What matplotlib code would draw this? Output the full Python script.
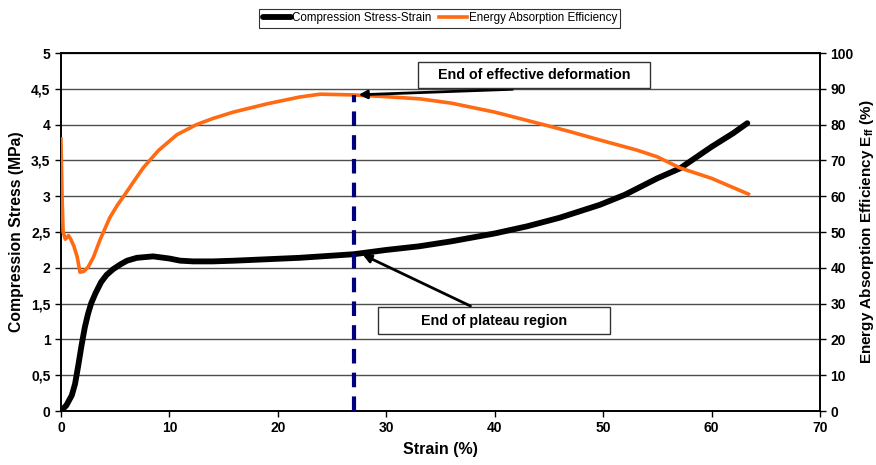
import matplotlib
matplotlib.use("Agg")
import matplotlib.pyplot as plt
from matplotlib.patches import Rectangle

plt.rcParams['font.family'] = ['Liberation Sans', 'DejaVu Sans']
plt.rcParams['mathtext.fontset'] = 'custom'
plt.rcParams['mathtext.rm'] = 'Liberation Sans'
plt.rcParams['mathtext.bf'] = 'Liberation Sans:bold'

# Compression stress-strain (left axis, MPa)
strain_s = [0, 0.5, 1.0, 1.3, 1.6, 1.9, 2.2, 2.5, 2.8, 3.2, 3.7, 4.2, 4.8, 5.5, 6.1, 7.0, 8.5, 10.0,
            11.0, 12.2, 14.0, 16.0, 19.0, 22.0, 25.0, 27.0, 30.0, 33.0, 36.0, 40.0, 43.0, 46.0, 49.7,
            52.0, 55.0, 57.1, 60.0, 62.0, 63.3]
stress = [0, 0.08, 0.22, 0.38, 0.64, 0.92, 1.17, 1.36, 1.51, 1.65, 1.8, 1.9, 1.98, 2.05, 2.1, 2.14, 2.16,
          2.13, 2.1, 2.09, 2.09, 2.1, 2.12, 2.14, 2.17, 2.19, 2.25, 2.3, 2.37, 2.48, 2.58, 2.7, 2.88,
          3.02, 3.25, 3.39, 3.69, 3.88, 4.02]

# Energy absorption efficiency (right axis, %)
strain_e = [0, 0.1, 0.2, 0.4, 0.7, 0.9, 1.2, 1.5, 1.75, 2.1, 2.5, 3.0, 3.6, 4.5, 5.2, 5.9, 6.8, 7.6,
            9.0, 10.7, 12.5, 14.0, 15.9, 19.0, 22.0, 23.9, 27.0, 30.0, 33.1, 36.0, 40.0, 44.5, 47.0,
            49.7, 53.1, 55.0, 57.1, 60.0, 63.4]
efficiency = [76, 60, 50, 48, 49, 48, 46, 43, 38.8, 39.0, 40.2, 43, 47.8, 54, 57.5, 60.5, 64.5, 68,
              72.8, 77.2, 80, 81.7, 83.5, 85.8, 87.7, 88.5, 88.3, 87.8, 87.2, 86, 83.5, 80, 78,
              75.7, 72.9, 71, 67.9, 65, 60.6]

end_strain = 27.0
end_eff = 88.3

xticks = [0, 10, 20, 30, 40, 50, 60, 70]
yticks_left = [0, 0.5, 1, 1.5, 2, 2.5, 3, 3.5, 4, 4.5, 5]
ylabels_left = ['0', '0,5', '1', '1,5', '2', '2,5', '3', '3,5', '4', '4,5', '5']
yticks_right = [0, 10, 20, 30, 40, 50, 60, 70, 80, 90, 100]

fig = plt.figure(figsize=(8.76, 4.65), dpi=100)
ax = fig.add_axes([0.0696, 0.116, 0.8664, 0.770])
ax2 = ax.twinx()

ax.set_xlim(0, 70)
ax.set_ylim(0, 5)
ax2.set_ylim(0, 100)

for y in yticks_left[1:]:
    ax.axhline(y, color='#4d4d4d', lw=1.0, zorder=0)

l1, = ax.plot(strain_s, stress, color='black', lw=4.2, solid_capstyle='round',
              label='Compression Stress-Strain', zorder=3)
l2, = ax2.plot(strain_e, efficiency, color='#ff6a13', lw=2.6,
               label='Energy Absorption Efficiency', zorder=3)
ax2.plot([end_strain, end_strain], [0, end_eff], color='#00007f', lw=3,
         dashes=(3.5, 2.2), zorder=4)

ax.set_xticks(xticks)
ax.set_yticks(yticks_left)
ax.set_yticklabels(ylabels_left)
ax2.set_yticks(yticks_right)
for a in (ax, ax2):
    a.tick_params(labelsize=10, width=1, length=4, direction='out')
    for lab in a.get_xticklabels() + a.get_yticklabels():
        lab.set_fontweight('bold')
    for sp in a.spines.values():
        sp.set_linewidth(1.2)

ax.set_xlabel('Strain (%)', fontsize=11.5, fontweight='bold', labelpad=5)
ax.set_ylabel('Compression Stress (MPa)', fontsize=11.3, fontweight='bold', labelpad=5)
ax2.set_ylabel(r'Energy Absorption Efficiency E$_\mathbf{ff}$ (%)', fontsize=11.0,
               fontweight='bold', labelpad=3)

leg = fig.legend(handles=[l1, l2], loc='center', bbox_to_anchor=(0.502, 0.961), ncol=2,
                 fontsize=8.4, frameon=True, fancybox=False, handlelength=2.4,
                 handletextpad=0.15, columnspacing=0.6, borderpad=0.3, borderaxespad=0)
leg.get_frame().set_edgecolor('black')
leg.get_frame().set_linewidth(0.8)

# annotation boxes (figure coordinates)
fig.add_artist(Rectangle((0.477, 0.8108), 0.265, 0.0559, transform=fig.transFigure,
                         fc='white', ec='#333333', lw=1.0, zorder=6))
fig.text(0.6095, 0.8388, 'End of effective deformation', ha='center', va='center',
         fontsize=10.3, fontweight='bold', zorder=7)
fig.add_artist(Rectangle((0.4315, 0.2817), 0.265, 0.058, transform=fig.transFigure,
                         fc='white', ec='#333333', lw=1.0, zorder=6))
fig.text(0.564, 0.3097, 'End of plateau region', ha='center', va='center',
         fontsize=10.3, fontweight='bold', zorder=7)

ax2.annotate('', xy=(end_strain + 0.2, end_eff), xytext=(41.9, 89.9),
             arrowprops=dict(arrowstyle='-|>', color='black', lw=2, mutation_scale=12), zorder=5)
ax.annotate('', xy=(end_strain + 0.6, 2.2), xytext=(38, 1.45),
            arrowprops=dict(arrowstyle='-|>', color='black', lw=2, mutation_scale=12), zorder=5)

fig.savefig('out.png', dpi=100)
